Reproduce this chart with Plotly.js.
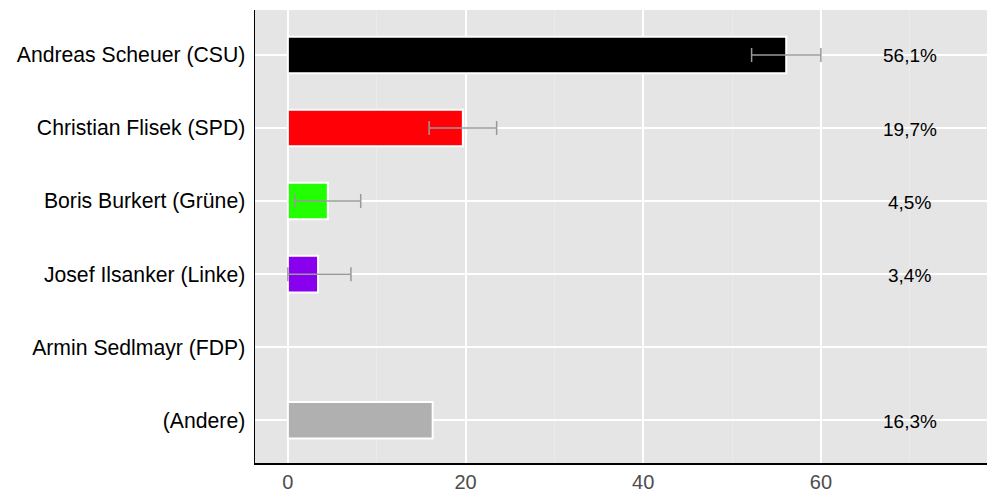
<!DOCTYPE html>
<html><head><meta charset="utf-8">
<script src="https://cdn.plot.ly/plotly-3.0.1.min.js"></script>
<style>body{margin:0}#c{width:1000px;height:500px}</style>
</head><body><div id="c"></div>
<script>
const candidates = ["Andreas Scheuer (CSU)","Christian Flisek (SPD)","Boris Burkert (Grüne)","Josef Ilsanker (Linke)","Armin Sedlmayr (FDP)","(Andere)"];
const values = [56.1, 19.7, 4.5, 3.4, null, 16.3];
const errPlus = [3.9, 3.8, 3.7, 3.7, null, null];
const errMinus = [3.9, 3.8, 3.7, 3.4, null, null];
const labels = ["56,1%","19,7%","4,5%","3,4%","","16,3%"];
const colors = ["#000000","#ff0006","#22ff00","#8800ee","#ffffff","#b0b0b0"];
const labelX = 70;

const bars = {
  type:'bar', orientation:'h', y:candidates, x:values,
  marker:{color:colors, line:{color:'#ffffff', width:2}},
  width:0.5, hoverinfo:'x+y', showlegend:false
};
const hasErr = candidates.map((c,i)=>errPlus[i]!=null);
const errs = {
  type:'scatter', mode:'markers',
  y:candidates.filter((c,i)=>hasErr[i]), x:values.filter((v,i)=>hasErr[i]),
  marker:{size:1, opacity:0},
  error_x:{type:'data', symmetric:false, array:errPlus.filter((v,i)=>hasErr[i]), arrayminus:errMinus.filter((v,i)=>hasErr[i]), color:'#999999', thickness:1.5, width:7},
  showlegend:false, hoverinfo:'skip'
};
const annotations = candidates.map((c,i)=>labels[i]===""?null:{
  x:labelX, y:c, xref:'x', yref:'y', text:labels[i], showarrow:false,
  xanchor:'center', yanchor:'middle', yshift:-1,
  font:{family:'Liberation Sans, Arial, sans-serif', size:19, color:'#000'}
}).filter(a=>a);
const layout = {
  width:1000, height:500,
  margin:{l:255, r:13, t:10, b:37},
  paper_bgcolor:'#ffffff', plot_bgcolor:'#e5e5e5',
  annotations:annotations,
  xaxis:{range:[-3.7,78.7], tickvals:[0,20,40,60], ticktext:['0','20','40','60'],
    showgrid:true, gridcolor:'#ffffff', gridwidth:2, zeroline:false,
    minor:{tickvals:[10,30,50,70], showgrid:true, gridcolor:'#ebebeb', gridwidth:1},
    showline:true, linecolor:'#000', linewidth:1.5, ticks:'', ticklen:0,
    tickfont:{family:'Liberation Sans Narrow, Liberation Sans, Arial, sans-serif', size:20, color:'#4d4d4d'}, fixedrange:true},
  yaxis:{type:'category', categoryorder:'array', categoryarray:candidates, range:[5.585,-0.615],
    showgrid:true, gridcolor:'#ffffff', gridwidth:2, zeroline:false,
    showline:true, linecolor:'#000', linewidth:1.5, ticks:'', ticklabelstandoff:4,
    tickfont:{family:'Liberation Sans, Arial, sans-serif', size:21.2, color:'#000'}, fixedrange:true},
  font:{family:'Liberation Sans, Arial, sans-serif'}
};
Plotly.newPlot('c',[bars,errs],layout,{displayModeBar:false,staticPlot:true});
</script></body></html>
